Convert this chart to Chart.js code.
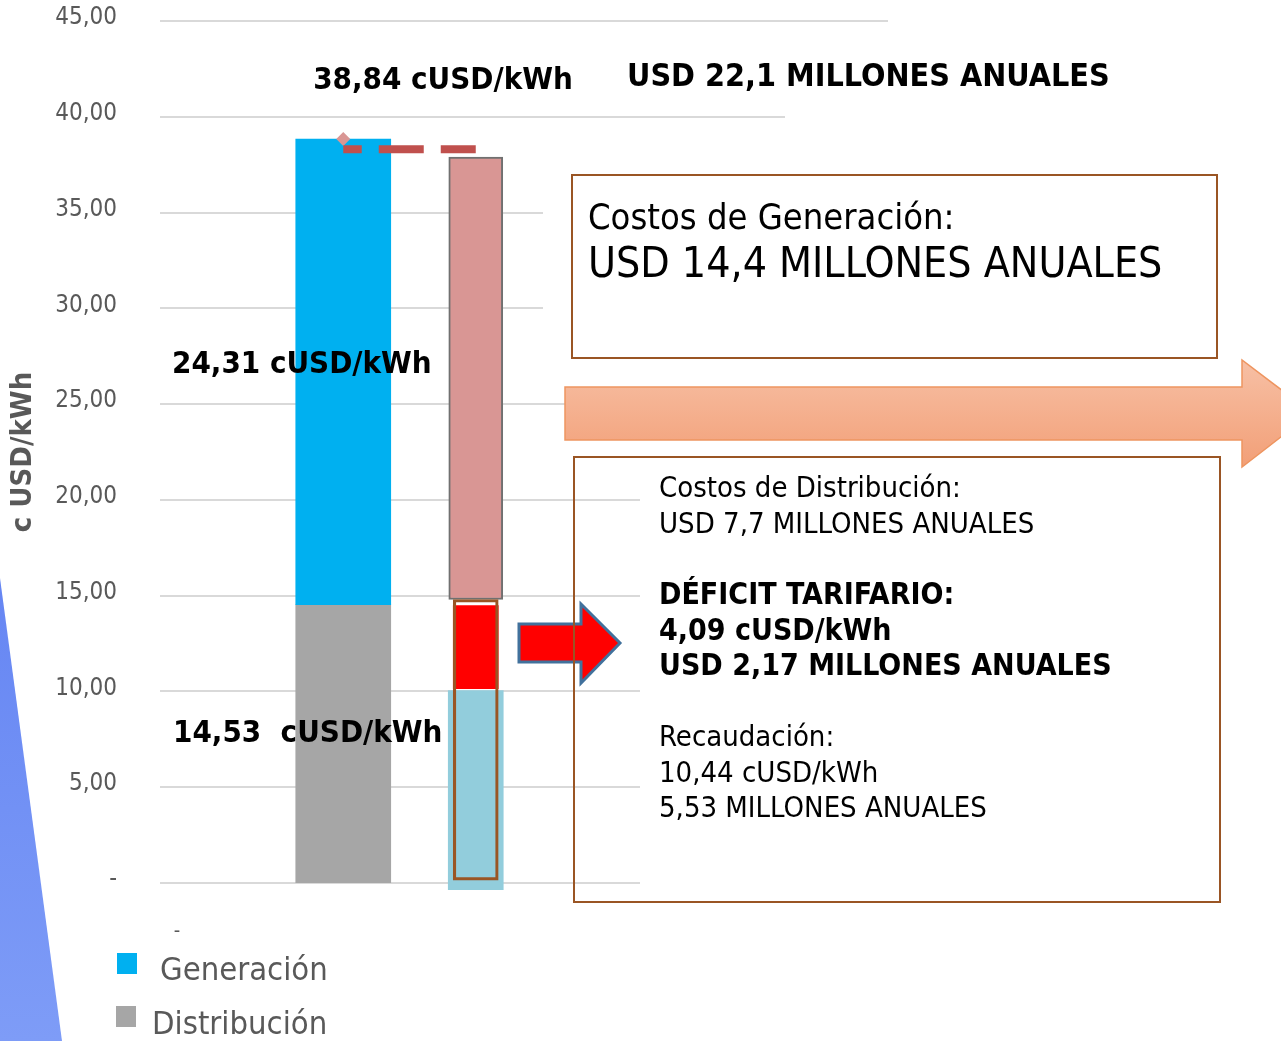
<!DOCTYPE html>
<html>
<head>
<meta charset="utf-8">
<script src="https://cdn.jsdelivr.net/npm/chart.js@4.4.1/dist/chart.umd.min.js"></script>
<style>
html,body{margin:0;padding:0;background:#fff;}
#wrap{position:relative;width:1281px;height:1041px;overflow:hidden;font-family:"DejaVu Sans Condensed","DejaVu Sans",sans-serif;}
#bg{position:absolute;left:0;top:0;z-index:0;}
#chart{position:absolute;left:0;top:0;z-index:1;}
#shapes{position:absolute;left:0;top:0;z-index:2;pointer-events:none;}
.t{position:absolute;z-index:3;white-space:pre;color:#000;}
.box{position:absolute;z-index:4;border:2px solid #9A5524;box-sizing:border-box;}
.leg{position:absolute;z-index:3;}
</style>
</head>
<body>
<div id="wrap">
  <svg id="bg" width="1281" height="1041">
    <defs>
      <linearGradient id="bgg" x1="0" y1="0" x2="0" y2="1">
        <stop offset="0" stop-color="#6686F3"/>
        <stop offset="1" stop-color="#7E9CF7"/>
      </linearGradient>
    </defs>
    <polygon points="0,578 62,1041 0,1041" fill="url(#bgg)"/>
  </svg>
  <canvas id="chart" width="1281" height="1041"></canvas>
  <svg id="shapes" width="1281" height="1041">
    <defs>
      <linearGradient id="og" x1="0" y1="0" x2="0" y2="1">
        <stop offset="0" stop-color="#F7C0A5"/>
        <stop offset="1" stop-color="#F29F77"/>
      </linearGradient>
    </defs>
    <path d="M565,387 L1242,387 L1242,360 L1312,413 L1242,467 L1242,440 L565,440 Z" fill="url(#og)" stroke="#EE9560" stroke-width="1.5"/>
    <path d="M519,624 L581,624 L581,604 L620,643 L581,683 L581,662 L519,662 Z" fill="#FF0000" stroke="#41719C" stroke-width="3" stroke-linejoin="miter"/>
  </svg>
</div>
<script>
// ---------------- data ----------------
const categories = ['Costo', 'Tarifa'];
const distribucion = [[0, 14.53], null];          // cUSD/kWh
const generacion = [[14.53, 38.84], null];        // cUSD/kWh
const recaudacion = [null, [-0.35, 10.05]];
const deficit = [null, [10.15, 14.48]];
const tarifaGeneracion = [null, [14.8, 37.9]];
const tarifaMarco = [null, [0.15, 14.8]];
const costoTotal = [38.84, null];
const nivelReferencia = [38.3, 38.3];
const yTickLabels = ['-', '5,00', '10,00', '15,00', '20,00', '25,00', '30,00', '35,00', '40,00', '45,00'];
const legendNames = ['Generación', 'Distribución'];

// ---------------- helpers ----------------
const FONT = '"DejaVu Sans Condensed","DejaVu Sans",sans-serif';
Chart.defaults.font.family = FONT;
const fmt = v => v.toFixed(2).replace('.', ',');
const wrap = document.getElementById('wrap');
function addText(txt, left, cy, size, bold, color, align) {
  const d = document.createElement('div');
  d.className = 't';
  const lh = Math.round(size * 1.2);
  d.style.fontSize = size + 'px';
  d.style.lineHeight = lh + 'px';
  d.style.top = (cy - lh / 2) + 'px';
  d.style.fontWeight = bold ? 'bold' : 'normal';
  if (color) d.style.color = color;
  if (align === 'center') { d.style.left = (left - 400) + 'px'; d.style.width = '800px'; d.style.textAlign = 'center'; }
  else d.style.left = left + 'px';
  d.textContent = txt;
  wrap.appendChild(d);
  return d;
}

const partialGrid = {
  id: 'partialGrid',
  beforeDatasetsDraw(chart, args, opts) {
    const y = chart.scales.y, ctx = chart.ctx;
    ctx.save();
    ctx.strokeStyle = opts.color;
    ctx.lineWidth = opts.width;
    y.ticks.forEach((t, i) => {
      const py = Math.round(y.getPixelForValue(t.value));
      ctx.beginPath();
      ctx.moveTo(opts.start, py);
      ctx.lineTo(opts.ends[i], py);
      ctx.stroke();
    });
    ctx.restore();
  }
};

const chart = new Chart(document.getElementById('chart'), {
  type: 'bar',
  data: {
    labels: categories,
    datasets: [
      { type: 'line', label: 'Referencia', data: nivelReferencia, borderColor: '#C0504D', borderWidth: 8,
        borderDash: [45, 17], borderDashOffset: 26.5, borderCapStyle: 'butt', pointRadius: 0, fill: false },
      { type: 'line', label: 'Total', data: costoTotal, showLine: false, pointStyle: 'rectRot', pointRadius: 7,
        pointBackgroundColor: '#D99694', pointBorderWidth: 0, backgroundColor: '#D99694' },
      { label: 'Marco', data: tarifaMarco, backgroundColor: 'rgba(0,0,0,0)', borderColor: '#9A5524', borderWidth: 2.5,
        borderSkipped: false, barThickness: 45, grouped: false },
      { label: 'Tarifa generación', data: tarifaGeneracion, backgroundColor: '#D99694', borderColor: '#707070', borderWidth: 2,
        borderSkipped: false, barThickness: 54, grouped: false },
      { label: 'Déficit', data: deficit, backgroundColor: '#FF0000', borderWidth: 0, barThickness: 45, grouped: false },
      { label: 'Recaudación', data: recaudacion, backgroundColor: '#92CDDC', borderWidth: 0, barThickness: 55, grouped: false, clip: false },
      { label: 'Generación', data: generacion, backgroundColor: '#00B0F0', borderWidth: 0, barThickness: 95, grouped: false },
      { label: 'Distribución', data: distribucion, backgroundColor: '#A6A6A6', borderWidth: 0, barThickness: 95, grouped: false }
    ]
  },
  options: {
    responsive: false,
    animation: false,
    devicePixelRatio: 1,
    layout: { padding: { top: 21, bottom: 158, left: 0, right: 739 } },
    scales: {
      x: { type: 'category', display: false, offset: true },
      y: {
        min: 0, max: 45,
        ticks: { stepSize: 5, padding: 160, color: '#595959', labelOffset: -3,
          font: { size: 24, family: FONT },
          callback: (v, i) => yTickLabels[i] },
        grid: { display: false, drawTicks: false },
        border: { display: false },
        title: { display: true, text: 'c USD/kWh', color: '#595959', padding: { top: 6 },
          font: { size: 29, weight: 'bold', family: FONT } },
        afterFit: s => { s.width = 277; s.paddingTop = 0; s.paddingBottom = 0; }
      }
    },
    plugins: {
      legend: { display: false },
      tooltip: { enabled: false },
      partialGrid: { color: '#D9D9D9', width: 2, start: 160, ends: [640, 640, 640, 640, 640, 565, 543, 543, 785, 888] }
    }
  },
  plugins: [partialGrid]
});

// ---------------- value annotations ----------------
const gen = generacion[0][1] - generacion[0][0];
const dis = distribucion[0][1] - distribucion[0][0];
addText(fmt(costoTotal[0]) + ' cUSD/kWh', 443, 78, 31, true, '#000', 'center');
addText('USD 22,1 MILLONES ANUALES', 627, 75, 32, true, '#000');
addText(fmt(gen) + ' cUSD/kWh', 172, 362, 31, true, '#000');
addText(fmt(dis) + '  cUSD/kWh', 173, 731, 31, true, '#000');
addText('-', 177, 930, 20, false, '#595959', 'center');

// ---------------- boxes ----------------
const b1 = document.createElement('div');
b1.className = 'box';
Object.assign(b1.style, { left: '571px', top: '174px', width: '647px', height: '185px', background: '#fff' });
wrap.appendChild(b1);
addText('Costos de Generación:', 588, 216, 36, false, '#000').style.zIndex = 5;
addText('USD 14,4 MILLONES ANUALES', 588, 262, 42.5, false, '#000').style.zIndex = 5;

const b2 = document.createElement('div');
b2.className = 'box';
Object.assign(b2.style, { left: '573px', top: '456px', width: '648px', height: '447px' });
wrap.appendChild(b2);
const lines2 = [
  ['Costos de Distribución:', 487, false],
  ['USD 7,7 MILLONES ANUALES', 523, false],
  ['DÉFICIT TARIFARIO:', 594, true],
  ['4,09 cUSD/kWh', 630, true],
  ['USD 2,17 MILLONES ANUALES', 665, true],
  ['Recaudación:', 736, false],
  ['10,44 cUSD/kWh', 772, false],
  ['5,53 MILLONES ANUALES', 807, false]
];
lines2.forEach(l => addText(l[0], 659, l[1], l[2] ? 30 : 29, l[2], '#000').style.zIndex = 5);

// ---------------- legend (from chart's own legend items) ----------------
const items = chart.options.plugins.legend.labels.generateLabels(chart)
  .filter(it => legendNames.includes(it.text))
  .sort((a, b) => legendNames.indexOf(a.text) - legendNames.indexOf(b.text));
const legPos = [{ bx: 117, by: 953, tx: 160, cy: 969 }, { bx: 116, by: 1006, tx: 152, cy: 1023 }];
items.forEach((it, i) => {
  const p = legPos[i];
  const sq = document.createElement('div');
  sq.className = 'leg';
  Object.assign(sq.style, { left: p.bx + 'px', top: p.by + 'px', width: '20px', height: '21px', background: it.fillStyle });
  wrap.appendChild(sq);
  addText(it.text, p.tx, p.cy, 32.5, false, '#595959');
});
</script>
</body>
</html>
